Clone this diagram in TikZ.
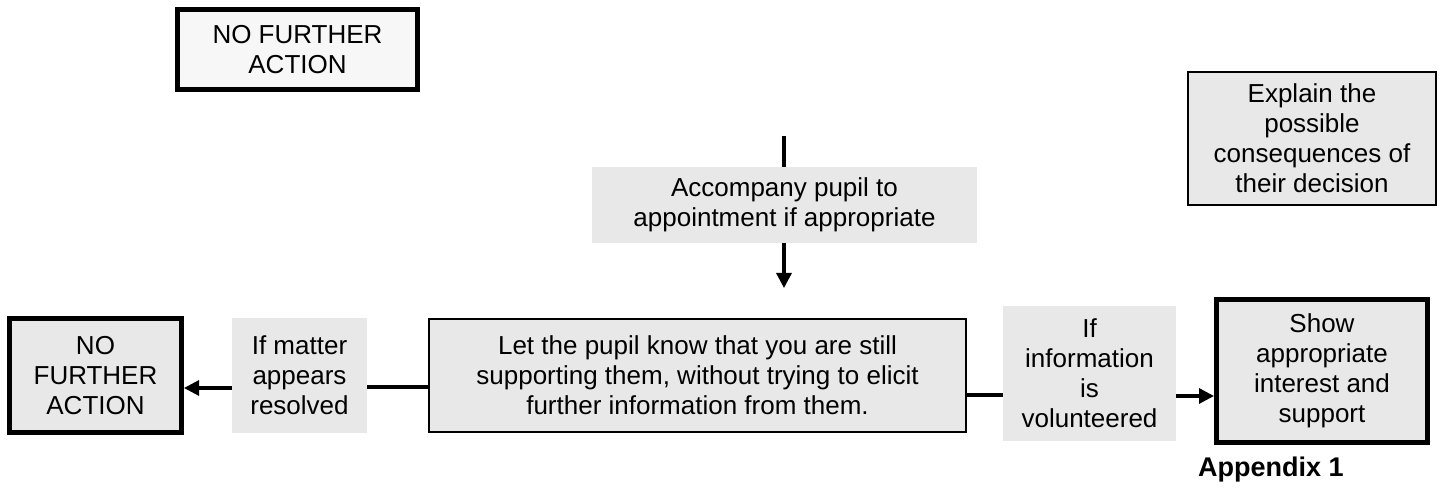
\documentclass[tikz,border=0pt]{standalone}
\usepackage{fontspec}
\setmainfont{Liberation Sans}
\usetikzlibrary{arrows.meta,positioning}
\definecolor{boxgray}{RGB}{232,232,232}
\definecolor{palegray}{RGB}{247,247,247}

\begin{document}
\begin{tikzpicture}[x=0.5pt, y=-0.5pt,
        every node/.style={font=\fontsize{13}{15}\selectfont, align=center, inner sep=0pt},
        graybox/.style={fill=boxgray},
        thinbox/.style={draw, fill=boxgray, line width=1pt},
        thickbox/.style={draw, fill=boxgray, line width=2.5pt},
        link/.style={line width=1.6pt},
        arrowlink/.style={line width=1.6pt, -{Triangle[width=7.5pt,length=7.5pt]}}]
        \useasboundingbox (0,0) rectangle (1442,497);
        \node[thickbox, fill=palegray, minimum width=120pt, minimum height=40pt] (nfatop) at (297.5,49.5) {NO FURTHER\\ACTION};
        \node[thinbox, minimum width=124pt, minimum height=66.5pt] (explain) at (1312,138.5) {Explain the\\possible\\consequences of\\their decision};
        \node[graybox, minimum width=192.5pt, minimum height=38pt] (accomp) at (784.5,205) {Accompany pupil to\\appointment if appropriate};
        \node[thinbox, minimum width=268.5pt, minimum height=56.5pt] (letknow) at (697.5,375.5) {Let the pupil know that you are still\\supporting them, without trying to elicit\\further information from them.};
        \node[graybox, minimum width=67.5pt, minimum height=57.5pt] (resolved) at (299.5,375.5) {If matter\\appears\\resolved};
        \node[thickbox, minimum width=86pt, minimum height=57pt] (nfaleft) at (95.5,375.5) {NO\\FURTHER\\ACTION};
        \node[graybox, minimum width=86.5pt, minimum height=67.5pt] (volunteered) at (1089.5,373.5) {If\\information\\is\\volunteered};
        \node[thickbox, minimum width=105.5pt, minimum height=71.5pt] (support) at (1322,371) {Show\\appropriate\\interest and\\support};
        \node[font=\fontsize{13.5}{15}\selectfont\bfseries] (appendix) at (1271,470) {Appendix 1};
        \coordinate (inflow) at (784,136);
        \coordinate (arrowend) at (784,288);
        \draw[link] (inflow) -- (inflow |- accomp.north);
        \draw[arrowlink] (accomp.south -| arrowend) -- (arrowend);
        \draw[link] ([yshift=-5.75pt]letknow.west) -- ([yshift=-5.75pt]letknow.west -| resolved.east);
        \draw[arrowlink] ([yshift=-6.25pt]resolved.west) -- ([yshift=-6.25pt]resolved.west -| nfaleft.east);
        \draw[link] ([yshift=-9.75pt]letknow.east) -- ([yshift=-9.75pt]letknow.east -| volunteered.west);
        \draw[arrowlink] ([yshift=-11.25pt]volunteered.east) -- ([yshift=-11.25pt]volunteered.east -| support.west);
    \end{tikzpicture}
\end{document}
